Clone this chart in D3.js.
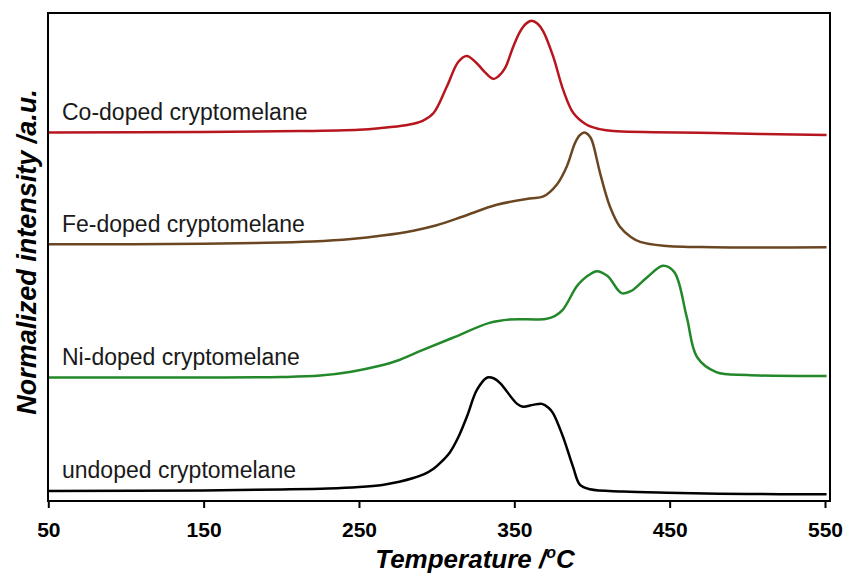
<!DOCTYPE html>
<html>
<head>
<meta charset="utf-8">
<script src="https://cdn.jsdelivr.net/npm/d3@7"></script>
<style>
  body { margin: 0; background: #fff; }
  text { font-family: Arial, "Liberation Sans", sans-serif; }
</style>
</head>
<body>
<script>
'use strict';

// temperatures (°C) and stacked normalized intensities
let coTemp = [50, 150, 212, 250, 263, 280, 291, 298, 306.5, 314, 319.4, 325.8, 331, 336.5, 340, 344,
  349.3, 353.7, 357.5, 361.2, 365, 368.7, 375, 381.5, 388, 396.6, 405, 413.7, 478, 551];
let coValues = [75.5, 75.6, 75.8, 76.1, 76.4, 77.0, 77.9, 79.5, 84.9, 90.0, 91.2, 89.7, 87.9, 86.5, 87.1, 88.7,
  93.1, 96.2, 97.8, 98.4, 97.8, 96.2, 91.1, 84.2, 79.5, 77.1, 76.2, 75.8, 75.4, 75.0];

let feTemp = [50, 150, 190, 220, 245, 265, 285, 300, 317, 338.7, 360, 368.7, 377.3, 383.7, 389, 392,
  394.9, 397.5, 399.8, 405.2, 411.6, 418, 425, 431, 446, 478, 551];
let feValues = [52.6, 52.7, 52.9, 53.2, 53.7, 54.4, 55.4, 56.5, 58.3, 60.7, 62.0, 62.4, 64.8, 68.5, 73.3, 74.9,
  75.5, 75.1, 74.0, 67.2, 60.3, 56.2, 54.1, 53.1, 52.3, 52.0, 52.0];

let niTemp = [50, 150, 200, 225, 245, 262, 276, 290, 310, 334, 347, 370, 376, 381, 390, 394, 398,
  403, 410, 419, 425, 435, 445.7, 453, 461, 467.6, 480, 500, 551];
let niValues = [25.3, 25.3, 25.4, 25.7, 26.5, 27.6, 28.9, 30.8, 33.4, 36.5, 37.2, 37.3, 37.9, 39.1, 43.9, 45.3, 46.3,
  47.1, 46.1, 42.6, 43.0, 45.7, 48.2, 46.9, 37.7, 29.5, 26.4, 25.8, 25.6];

let undopedTemp = [50, 150, 200, 230, 250, 265, 276, 285, 292, 298, 303, 308.6, 314, 319.5, 326, 332.6, 337, 341,
  351.8, 355.6, 362, 367.8, 372, 374.9, 381.3, 387.8, 392.3, 398.7, 420, 448, 500, 551];
let undopedValues = [2.05, 2.15, 2.36, 2.56, 2.87, 3.3, 3.95, 4.7, 5.5, 6.6, 8.0, 10.0, 13.1, 17.3, 22.8, 25.3, 25.1, 24.1,
  19.9, 19.3, 19.7, 19.9, 19.1, 18.0, 13.2, 7.0, 3.3, 2.4, 1.95, 1.7, 1.43, 1.37];

let seriesNames = ["Co-doped cryptomelane", "Fe-doped cryptomelane", "Ni-doped cryptomelane", "undoped cryptomelane"];
let seriesColors = ["#b8161f", "#6a4722", "#22882a", "#000000"];
let xTicks = [50, 150, 250, 350, 450, 550];

let width = 845;
let height = 575;
let svg = d3.select("body")
  .append("svg")
  .attr("width", width)
  .attr("height", height);

let frame = { left: 48, right: 830, top: 13, bottom: 501 };

let x = d3.scaleLinear()
  .domain([50, 550])
  .range([48.3, 825]);
let y = d3.scaleLinear()
  .domain([0, 100])
  .range([frame.bottom, frame.top]);

svg.append("clipPath")
  .attr("id", "plotclip")
  .append("rect")
  .attr("x", frame.left)
  .attr("y", frame.top)
  .attr("width", frame.right - frame.left)
  .attr("height", frame.bottom - frame.top);

let series = [
  { name: seriesNames[0], color: seriesColors[0], temp: coTemp, values: coValues },
  { name: seriesNames[1], color: seriesColors[1], temp: feTemp, values: feValues },
  { name: seriesNames[2], color: seriesColors[2], temp: niTemp, values: niValues },
  { name: seriesNames[3], color: seriesColors[3], temp: undopedTemp, values: undopedValues }
];

let line = d3.line()
  .x(d => x(d[0]))
  .y(d => y(d[1]))
  .curve(d3.curveCatmullRom.alpha(0.5));

let curves = svg.append("g").attr("clip-path", "url(#plotclip)");
curves.selectAll("path")
  .data(series)
  .enter()
  .append("path")
  .attr("fill", "none")
  .attr("stroke", s => s.color)
  .attr("stroke-width", 2.5)
  .attr("stroke-linejoin", "round")
  .attr("d", s => line(s.temp.map((t, i) => [t, s.values[i]])));

// curve labels sit just above each baseline
svg.append("g")
  .selectAll("text")
  .data(series)
  .enter()
  .append("text")
  .attr("x", 62)
  .attr("y", s => y(s.values[0]) - 12.5)
  .attr("font-size", "23px")
  .attr("fill", "#1a1a1a")
  .text(s => s.name);

// frame
svg.append("rect")
  .attr("x", frame.left)
  .attr("y", frame.top)
  .attr("width", frame.right - frame.left)
  .attr("height", frame.bottom - frame.top)
  .attr("fill", "none")
  .attr("stroke", "#000")
  .attr("stroke-width", 2);

// bottom axis
let xAxis = d3.axisBottom(x)
  .tickValues(xTicks)
  .tickSize(7)
  .tickSizeOuter(0)
  .tickPadding(14);
let axisG = svg.append("g")
  .attr("transform", "translate(0," + frame.bottom + ")")
  .call(xAxis);
axisG.select(".domain").remove();
axisG.selectAll(".tick line")
  .attr("stroke", "#000")
  .attr("stroke-width", 2);
axisG.selectAll(".tick text")
  .attr("font-family", "Arial, 'Liberation Sans', sans-serif")
  .attr("font-size", "21px")
  .attr("font-weight", "bold")
  .attr("fill", "#000");

// axis titles
let xTitle = svg.append("text")
  .attr("x", 475)
  .attr("y", 568)
  .attr("text-anchor", "middle")
  .attr("font-size", "26px")
  .attr("font-weight", "bold")
  .attr("font-style", "italic")
  .text("Temperature /");
xTitle.append("tspan")
  .attr("font-size", "16px")
  .attr("dy", -10)
  .text("o");
xTitle.append("tspan")
  .attr("dy", 10)
  .text("C");

svg.append("text")
  .attr("transform", "translate(36,252) rotate(-90)")
  .attr("text-anchor", "middle")
  .attr("font-size", "27px")
  .attr("font-weight", "bold")
  .attr("font-style", "italic")
  .text("Normalized intensity /a.u.");
</script>
</body>
</html>
